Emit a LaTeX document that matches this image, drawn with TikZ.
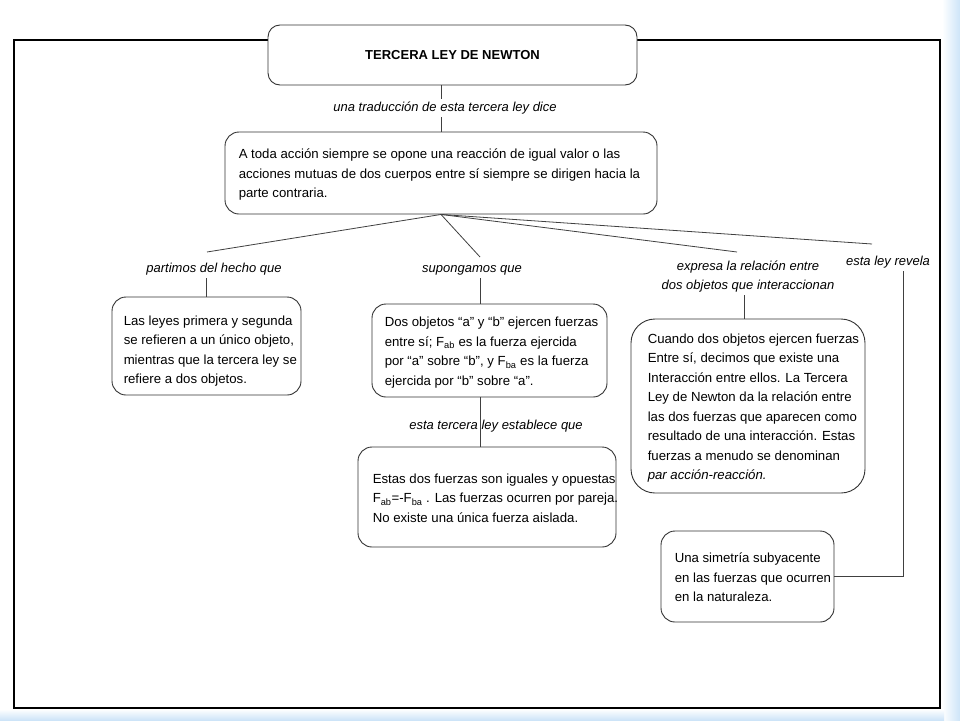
\documentclass[tikz,border=0pt]{standalone}
\usepackage{fontspec}
\setmainfont{Liberation Sans}
\usetikzlibrary{calc}
\definecolor{lb}{RGB}{205,228,248}
\begin{document}
\begin{tikzpicture}[x=1pt,y=-1pt,
  box/.style={draw=black!80, line width=0.9pt, rounded corners=14pt, fill=white, inner sep=0pt},
  txt/.style={anchor=west, align=left, inner sep=0pt, font=\fontsize{13.2}{19.5}\selectfont},
  lbl/.style={font=\fontsize{13}{18.5}\selectfont\itshape, inner xsep=0pt, inner ysep=3pt, align=center},
  conn/.style={draw=black!75, line width=0.8pt}]
\useasboundingbox (0,0) rectangle (960,720);
\fill[white] (0,0) rectangle (960,720);
\shade[left color=white, right color=lb] (942,0) rectangle (960,720);
\shade[top color=white, bottom color=lb] (0,709) rectangle (944,720);
\draw[line width=1.2pt] (14,40) rectangle (940,708);

% boxes
\node[box, minimum width=369, minimum height=60, rounded corners=12pt] (t) at (452.5,55)
  {\fontsize{13}{15}\selectfont\bfseries TERCERA LEY DE NEWTON};
\node[box, minimum width=432, minimum height=82] (b2) at (441,173) {};
\node[box, minimum width=189, minimum height=98] (b3) at (206.5,346) {};
\node[box, minimum width=235, minimum height=93] (b4) at (489.5,350.5) {};
\node[box, minimum width=258, minimum height=100] (b5) at (487,497) {};
\node[box, minimum width=234, minimum height=174, rounded corners=24pt] (b6) at (748,406) {};
\node[box, minimum width=173, minimum height=91] (b7) at (747.5,576.5) {};

% box texts
\node[txt] (x2) at ($(b2.west)+(14,2)$) {A toda acción siempre se opone una reacción de igual valor o las\\acciones mutuas de dos cuerpos entre sí siempre se dirigen hacia la\\parte contraria.};
\node[txt] (x3) at ($(b3.west)+(12,5)$) {Las leyes primera y segunda\\se refieren a un único objeto,\\mientras que la tercera ley se\\refiere a dos objetos.};
\node[txt] (x4) at ($(b4.west)+(13,2)$) {Dos objetos “a” y “b” ejercen fuerzas\\entre sí; F\textsubscript{ab} es la fuerza ejercida\\por “a” sobre “b”, y F\textsubscript{ba} es la fuerza\\ejercida por “b” sobre “a”.};
\node[txt] (x5) at ($(b5.west)+(15,1)$) {Estas dos fuerzas son iguales y opuestas\\F\textsubscript{ab}=-F\textsubscript{ba} . Las fuerzas ocurren por pareja.\\No existe una única fuerza aislada.};
\node[txt] (x6) at ($(b6.west)+(17,2)$) {Cuando dos objetos ejercen fuerzas\\Entre sí, decimos que existe una\\Interacción entre ellos. La Tercera\\Ley de Newton da la relación entre\\las dos fuerzas que aparecen como\\resultado de una interacción. Estas\\fuerzas a menudo se denominan\\\textit{par acción-reacción.}};
\node[txt] (x7) at ($(b7.west)+(14,1)$) {Una simetría subyacente\\en las fuerzas que ocurren\\en la naturaleza.};

% labels
\node[lbl, anchor=base] (l1) at (445,111.5) {una traducción de esta tercera ley dice};
\node[lbl, anchor=base] (l2) at (214,272.5) {partimos del hecho que};
\node[lbl, anchor=base] (l3) at (472,272.5) {supongamos que};
\node[lbl] (l4) at (748,276.5) {expresa la relación entre\\dos objetos que interaccionan};
\node[lbl, anchor=base] (l5) at (888,265.5) {esta ley revela};
\node[lbl, anchor=base] (l6) at (496,429.5) {esta tercera ley establece que};

% helper coordinates
\coordinate (f2) at (207,252);
\coordinate (f3) at (480,257);
\coordinate (f4) at (737,252);
\coordinate (f5) at (872,244);
\coordinate (v4) at ($(b4.north)+(-9.5,0)$);
\coordinate (v6) at ($(b6.north)+(-4,0)$);
\coordinate (v7) at (903,0);

% connectors
\draw[conn] (t.south -| b2.north) -- (l1.north -| b2.north);
\draw[conn] (l1.south -| b2.north) -- (b2.north);
\draw[conn] (b2.south) -- (f2);
\draw[conn] (b2.south) -- (f3);
\draw[conn] (b2.south) -- (f4);
\draw[conn] (b2.south) -- (f5);
\draw[conn] (l2.south -| b3.north) -- (b3.north);
\draw[conn] (l3.south -| v4) -- (v4);
\draw[conn] (b4.south -| v4) -- (b5.north -| v4);
\draw[conn] (l4.south -| v6) -- (v6);
\draw[conn] (l5.south -| v7) |- (b7.east);
\end{tikzpicture}
\end{document}
